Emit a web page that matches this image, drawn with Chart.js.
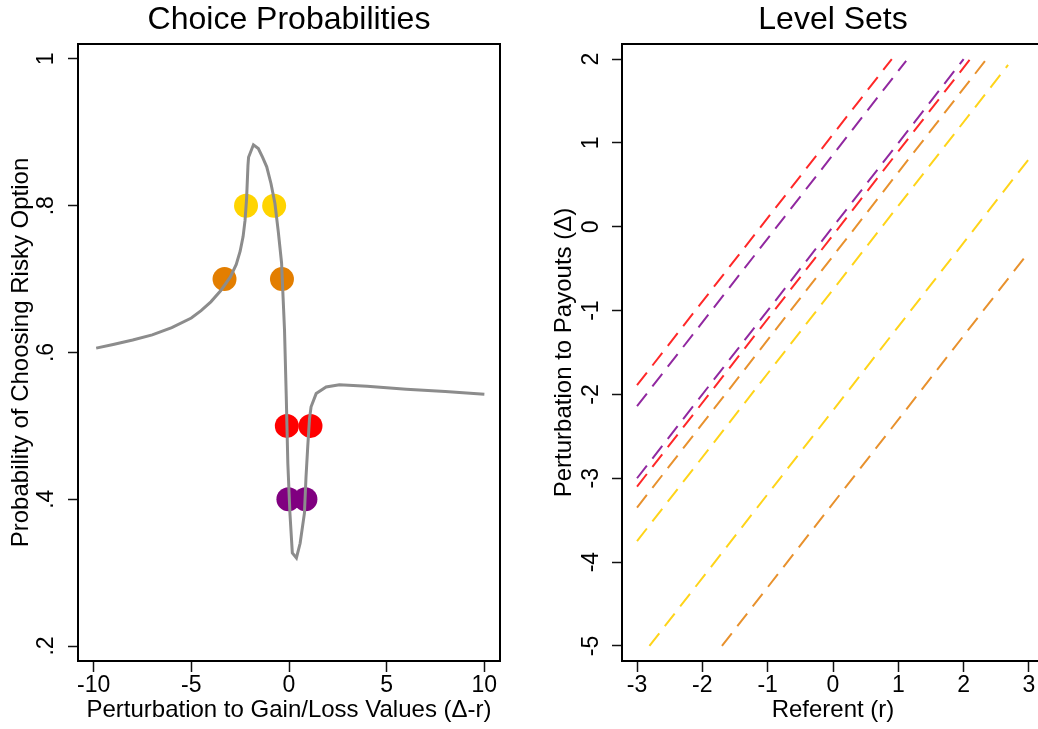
<!DOCTYPE html>
<html>
<head>
<meta charset="utf-8">
<script src="https://cdn.jsdelivr.net/npm/chart.js@4.4.1/dist/chart.umd.min.js"></script>
<style>
  html, body { margin: 0; padding: 0; background: #fff; overflow: hidden; width: 1038px; height: 729px; }
  canvas { position: absolute; top: 0; }
  #left { left: 0; }
  #right { left: 520px; }
</style>
</head>
<body>
<canvas id="left" width="520" height="729"></canvas>
<canvas id="right" width="540" height="729"></canvas>
<script>
// ---------- Left panel: Choice Probabilities ----------
const leftTitle = 'Choice Probabilities';
const leftXTitle = 'Perturbation to Gain/Loss Values (\u0394-r)';
const leftYTitle = 'Probability of Choosing Risky Option';
const leftXTicks = [-10, -5, 0, 5, 10];
const leftXTickLabels = ['-10', '-5', '0', '5', '10'];
const leftYTicks = [0.2, 0.4, 0.6, 0.8, 1.0];
const leftYTickLabels = ['.2', '.4', '.6', '.8', '1'];

const curveX = [-9.87, -9, -8, -7, -6, -5, -4.5, -4, -3.5, -3, -2.7, -2.5, -2.35, -2.25, -2.17, -2.1, -2.07, -1.82, -1.57, -1.35, -1.14, -0.92, -0.72, -0.55, -0.38, -0.23, -0.14, -0.06, 0.05, 0.17, 0.38, 0.57, 0.79, 0.87, 0.96, 1.05, 1.13, 1.39, 1.9, 2.58, 4, 6, 8, 10];
const curveY = [0.606, 0.611, 0.617, 0.624, 0.634, 0.647, 0.657, 0.669, 0.684, 0.703, 0.720, 0.738, 0.758, 0.780, 0.810, 0.855, 0.866, 0.883, 0.878, 0.866, 0.853, 0.830, 0.803, 0.765, 0.722, 0.631, 0.540, 0.449, 0.380, 0.327, 0.320, 0.340, 0.381, 0.430, 0.472, 0.510, 0.526, 0.544, 0.553, 0.556, 0.554, 0.550, 0.547, 0.543];

const yellowX = [-2.2, -0.76];
const yellowY = [0.8, 0.8];
const orangeX = [-3.3, -0.36];
const orangeY = [0.7, 0.7];
const redX = [-0.11, 1.1];
const redY = [0.5, 0.5];
const purpleX = [-0.03, 0.84];
const purpleY = [0.4, 0.4];

// ---------- Right panel: Level Sets ----------
const rightTitle = 'Level Sets';
const rightXTitle = 'Referent (r)';
const rightYTitle = 'Perturbation to Payouts (\u0394)';
const rightXTicks = [-3, -2, -1, 0, 1, 2, 3];
const rightXTickLabels = ['-3', '-2', '-1', '0', '1', '2', '3'];
const rightYTicks = [-5, -4, -3, -2, -1, 0, 1, 2];
const rightYTickLabels = ['-5', '-4', '-3', '-2', '-1', '0', '1', '2'];

const levelColorNames = ['red', 'purple', 'purple', 'red', 'orange', 'yellow', 'yellow', 'orange'];
const levelStartX = [-3, -3, -3, -3, -3, -3, -2.81, -1.70];
const levelStartY = [-1.89, -2.14, -3.0, -3.1, -3.35, -3.75, -5, -5];
const levelEndX = [0.9, 1.12, 2.0, 2.1, 2.35, 2.68, 3, 3];
const levelEndY = [2.0, 1.98, 2.0, 2.0, 2.0, 1.93, 0.81, -0.30];

// ---------- styling ----------
const FONT = '"Liberation Sans", Arial, Helvetica, sans-serif';
const dotColors = { yellow: '#FFD400', orange: '#E37E00', red: '#FF0000', purple: '#800080' };
const lineColors = { red: 'rgb(255,40,40)', purple: 'rgb(145,40,160)', orange: 'rgb(232,145,45)', yellow: 'rgb(255,212,25)' };

const framePlugin = {
  id: 'frame',
  afterDraw(chart, args, opts) {
    const { ctx, chartArea: a } = chart;
    ctx.save();
    ctx.strokeStyle = '#000';
    ctx.lineWidth = 2;
    ctx.strokeRect(a.left, a.top, a.right - a.left, a.bottom - a.top);
    ctx.fillStyle = '#000';
    ctx.font = '32px ' + FONT;
    ctx.textAlign = 'center';
    ctx.textBaseline = 'alphabetic';
    ctx.fillText(opts.text, (a.left + a.right) / 2, 29);
    ctx.restore();
  }
};

function pts(xs, ys) { return xs.map((x, i) => ({ x: x, y: ys[i] })); }
function lookup(vals, labels) { return (v) => { const i = vals.findIndex(t => Math.abs(t - v) < 1e-9); return i >= 0 ? labels[i] : ''; }; }

function axisX(min, max, ticks, labels, title, height) {
  return {
    type: 'linear', min: min, max: max,
    afterBuildTicks: (s) => { s.ticks = ticks.map(v => ({ value: v })); },
    afterFit: (s) => { s.height = height; },
    border: { display: false },
    grid: { drawOnChartArea: false, drawTicks: true, tickLength: 11, tickColor: '#111', tickWidth: 1.5 },
    ticks: { autoSkip: false, maxRotation: 0, minRotation: 0, padding: 0, color: '#000',
             font: { family: FONT, size: 23, lineHeight: 1.2 }, callback: lookup(ticks, labels) },
    title: { display: true, text: title, color: '#000', padding: { top: 0, bottom: 4 },
             font: { family: FONT, size: 24, lineHeight: 1.2 } }
  };
}
function axisY(min, max, ticks, labels, title, width, pad, titlePad) {
  return {
    type: 'linear', min: min, max: max,
    afterBuildTicks: (s) => { s.ticks = ticks.map(v => ({ value: v })); },
    afterFit: (s) => { s.width = width; },
    border: { display: false },
    grid: { drawOnChartArea: false, drawTicks: true, tickLength: 10, tickColor: '#111', tickWidth: 1.5 },
    ticks: { autoSkip: false, minRotation: 90, maxRotation: 90, crossAlign: 'center', padding: pad, color: '#000',
             font: { family: FONT, size: 23, lineHeight: 1.2 }, callback: lookup(ticks, labels) },
    title: { display: true, text: title, color: '#000', padding: { top: titlePad, bottom: 0 },
             font: { family: FONT, size: 24, lineHeight: 1.2 } }
  };
}

const common = {
  responsive: false, animation: false, devicePixelRatio: 1,
  plugins: { legend: { display: false }, tooltip: { enabled: false } }
};

// Left chart
const leftDatasets = [
  { data: pts(curveX, curveY), showLine: true, borderColor: '#8c8c8c', borderWidth: 3, pointRadius: 0, tension: 0, fill: false }
];
[['yellow', yellowX, yellowY], ['orange', orangeX, orangeY], ['red', redX, redY], ['purple', purpleX, purpleY]].forEach(([c, xs, ys]) => {
  leftDatasets.push({ data: pts(xs, ys), showLine: false, pointRadius: 12, pointHoverRadius: 12,
                      backgroundColor: dotColors[c], borderWidth: 0, pointBorderWidth: 0 });
});

new Chart(document.getElementById('left'), {
  type: 'scatter',
  data: { datasets: leftDatasets },
  options: Object.assign({}, common, {
    layout: { padding: { top: 44, right: 20, left: 0, bottom: 0 } },
    plugins: Object.assign({}, common.plugins, { frame: { text: leftTitle } }),
    scales: {
      x: axisX(-10.8, 10.8, leftXTicks, leftXTickLabels, leftXTitle, 68),
      y: axisY(0.1796, 1.0204, leftYTicks, leftYTickLabels, leftYTitle, 78, 12, 6.6)
    }
  }),
  plugins: [framePlugin]
});

// Right chart
const rightDatasets = levelColorNames.map((c, i) => ({
  data: [{ x: levelStartX[i], y: levelStartY[i] }, { x: levelEndX[i], y: levelEndY[i] }],
  showLine: true, borderColor: lineColors[c], borderWidth: 2, borderDash: [16, 9],
  pointRadius: 0, tension: 0, fill: false
}));

new Chart(document.getElementById('right'), {
  type: 'scatter',
  data: { datasets: rightDatasets },
  options: Object.assign({}, common, {
    layout: { padding: { top: 44, right: 16, left: 0, bottom: 0 } },
    plugins: Object.assign({}, common.plugins, { frame: { text: rightTitle } }),
    scales: {
      x: axisX(-3.23, 3.23, rightXTicks, rightXTickLabels, rightXTitle, 68),
      y: axisY(-5.18, 2.18, rightYTicks, rightYTickLabels, rightYTitle, 102, 10, 29.6)
    }
  }),
  plugins: [framePlugin]
});
</script>
</body>
</html>
